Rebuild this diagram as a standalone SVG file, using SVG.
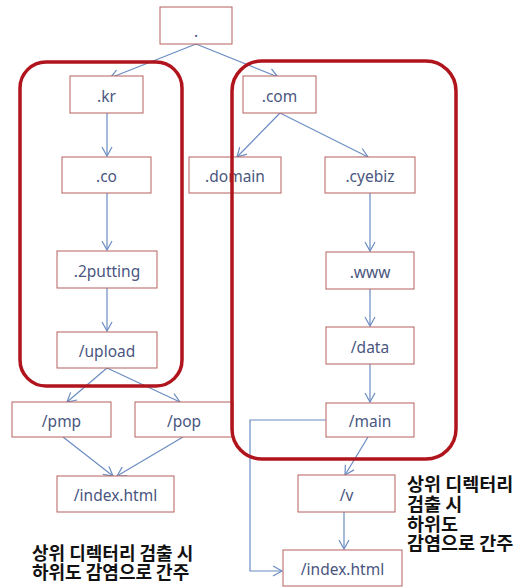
<svg xmlns="http://www.w3.org/2000/svg" width="527" height="587" viewBox="0 0 527 587">
<defs>
<marker id="ah" markerWidth="12" markerHeight="12" refX="10" refY="6" orient="auto" markerUnits="userSpaceOnUse">
<path d="M1,1 L10,6 L1,11" fill="none" stroke="#6a8cc2" stroke-width="1.2"/>
</marker>
</defs>
<style>
.box{fill:#fff;stroke:#b5605d;stroke-width:1}
.lbl{font-family:"Noto Sans","Liberation Sans",sans-serif;font-size:15.5px;fill:#4a5680;text-anchor:middle}
.c{fill:none;stroke:#6a8cc2;stroke-width:1.2;marker-end:url(#ah)}
.grp{fill:none;stroke:#b0141c;stroke-width:3.5}
.note{font-family:"Noto Sans CJK KR",sans-serif;font-weight:bold;fill:#111}
.n1{font-size:18px}
.n2{font-size:18.5px}
</style>
<rect width="527" height="587" fill="#fff"/>
<g id="connectors">
<line class="c" x1="196" y1="44" x2="110" y2="78"/>
<line class="c" x1="196" y1="44" x2="278" y2="77"/>
<line class="c" x1="107" y1="113" x2="107" y2="156"/>
<line class="c" x1="107" y1="193" x2="107" y2="250"/>
<line class="c" x1="107" y1="288" x2="107" y2="331"/>
<line class="c" x1="107" y1="368" x2="67" y2="402"/>
<line class="c" x1="107" y1="368" x2="180" y2="402"/>
<line class="c" x1="63" y1="437" x2="113" y2="476"/>
<line class="c" x1="183" y1="437" x2="117" y2="476"/>
<line class="c" x1="280" y1="113" x2="237" y2="157"/>
<line class="c" x1="280" y1="113" x2="368" y2="157"/>
<line class="c" x1="370" y1="193" x2="370" y2="251"/>
<line class="c" x1="370" y1="289" x2="370" y2="326"/>
<line class="c" x1="370" y1="364" x2="370" y2="402"/>
<line class="c" x1="368" y1="437" x2="345" y2="475"/>
<line class="c" x1="344" y1="512" x2="344" y2="549"/>
<polyline class="c" points="326,420 250,420 250,571 282,571"/>
</g>
<g id="n-root"><rect class="box" x="160" y="7" width="72" height="37"/><text class="lbl" x="196" y="37">.</text></g>
<g id="n-kr"><rect class="box" x="70" y="76" width="73" height="37"/><text class="lbl" x="106.5" y="101.5">.kr</text></g>
<g id="n-com"><rect class="box" x="243" y="76" width="73" height="37"/><text class="lbl" x="279.5" y="101.5">.com</text></g>
<g id="n-co"><rect class="box" x="62" y="157" width="89" height="36"/><text class="lbl" x="106.5" y="182">.co</text></g>
<g id="n-domain"><rect class="box" x="189" y="157" width="92" height="36"/><text class="lbl" x="235" y="182">.domain</text></g>
<g id="n-cyebiz"><rect class="box" x="325" y="157" width="90" height="36"/><text class="lbl" x="370" y="182">.cyebiz</text></g>
<g id="n-2putting"><rect class="box" x="57" y="251" width="100" height="37"/><text class="lbl" x="107" y="276.5">.2putting</text></g>
<g id="n-www"><rect class="box" x="326" y="252" width="88" height="37"/><text class="lbl" x="370" y="277.5">.www</text></g>
<g id="n-upload"><rect class="box" x="57" y="332" width="100" height="36"/><text class="lbl" x="107" y="357">/upload</text></g>
<g id="n-data"><rect class="box" x="326" y="327" width="88" height="37"/><text class="lbl" x="370" y="352.5">/data</text></g>
<g id="n-pmp"><rect class="box" x="12" y="402" width="99" height="35"/><text class="lbl" x="61.5" y="426.5">/pmp</text></g>
<g id="n-pop"><rect class="box" x="135" y="402" width="98" height="35"/><text class="lbl" x="184" y="426.5">/pop</text></g>
<g id="n-main"><rect class="box" x="326" y="403" width="88" height="34"/><text class="lbl" x="370" y="427">/main</text></g>
<g id="n-index1"><rect class="box" x="57" y="476" width="117" height="36"/><text class="lbl" x="115.5" y="501">/index.html</text></g>
<g id="n-v"><rect class="box" x="298" y="475" width="97" height="37"/><text class="lbl" x="346.5" y="500.5">/v</text></g>
<g id="n-index2"><rect class="box" x="283" y="550" width="119" height="36"/><text class="lbl" x="342.5" y="575">/index.html</text></g>
<g id="groups">
<rect class="grp" x="20" y="62" width="162" height="324" rx="26"/>
<rect class="grp" x="232" y="61" width="224" height="398" rx="30"/>
</g>
<g id="notes">
<text class="note n1" x="32" y="560">상위 디렉터리 검출 시</text>
<text class="note n1" x="32" y="579">하위도 감염으로 간주</text>
<text class="note n2" x="407" y="491">상위 디렉터리</text>
<text class="note n2" x="407" y="511">검출 시</text>
<text class="note n2" x="407" y="531">하위도</text>
<text class="note n2" x="407" y="550">감염으로 간주</text>
</g>
</svg>
